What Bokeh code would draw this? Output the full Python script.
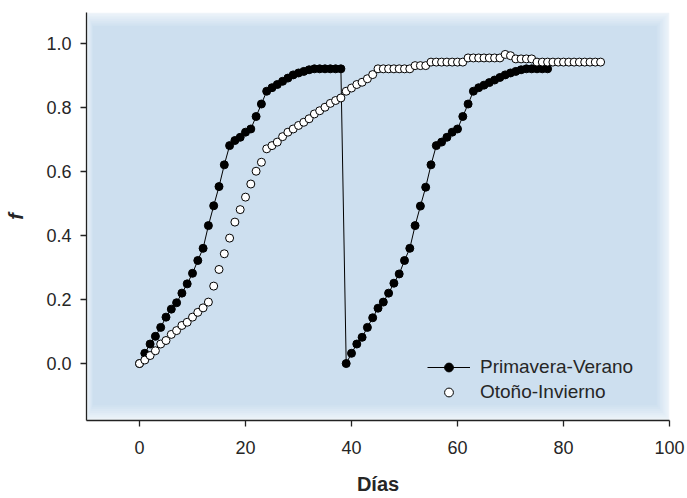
from bokeh.plotting import figure
from bokeh.models import FixedTicker, PrintfTickFormatter, Legend, LegendItem, Range1d
from bokeh.embed import file_html
from bokeh.resources import INLINE

# ---- data ----
pv_days = list(range(0, 78))
pv_f = [0.0, 0.032, 0.061, 0.085, 0.113, 0.145, 0.17, 0.19, 0.22, 0.249,
        0.282, 0.322, 0.36, 0.431, 0.493, 0.553, 0.621, 0.681, 0.697, 0.707,
        0.723, 0.733, 0.772, 0.811, 0.851, 0.862, 0.872, 0.882, 0.892, 0.902,
        0.908, 0.913, 0.918, 0.921, 0.921, 0.921, 0.921, 0.921, 0.921,
        0.0, 0.032, 0.061, 0.082, 0.113, 0.143, 0.173, 0.192, 0.22, 0.251,
        0.28, 0.322, 0.36, 0.431, 0.492, 0.551, 0.621, 0.681, 0.692, 0.707,
        0.723, 0.733, 0.772, 0.811, 0.851, 0.862, 0.870, 0.878, 0.886, 0.894,
        0.902, 0.908, 0.913, 0.918, 0.921, 0.921, 0.921, 0.921, 0.921]

oi_days = list(range(0, 88))
oi_f = [0.0, 0.011, 0.025, 0.04, 0.061, 0.072, 0.091, 0.103, 0.119, 0.129,
        0.145, 0.16, 0.174, 0.192, 0.242, 0.294, 0.343, 0.392, 0.442, 0.481,
        0.52, 0.561, 0.601, 0.629, 0.671, 0.681, 0.692, 0.709, 0.723, 0.733,
        0.744, 0.754, 0.765, 0.78, 0.79, 0.801, 0.813, 0.822, 0.83, 0.851,
        0.861, 0.872, 0.879, 0.89, 0.903, 0.921, 0.921, 0.921, 0.921, 0.921,
        0.921, 0.921, 0.931, 0.931, 0.931, 0.942, 0.942, 0.942, 0.942, 0.942,
        0.942, 0.942, 0.955, 0.955, 0.955, 0.955, 0.955, 0.955, 0.955, 0.966,
        0.962, 0.952, 0.952, 0.952, 0.952, 0.942, 0.942, 0.942, 0.942, 0.942,
        0.942, 0.942, 0.942, 0.942, 0.942, 0.942, 0.942, 0.942]

x_ticks = [0, 20, 40, 60, 80, 100]
y_ticks = [0.0, 0.2, 0.4, 0.6, 0.8, 1.0]
labels = ["Primavera-Verano", "Otoño-Invierno"]

X0, X1 = -10, 100
Y0, Y1 = -0.178, 1.097

W, H = 687, 498
BL, BR, BT, BB = 86, 18, 12, 78

p = figure(width=W, height=H, x_range=Range1d(X0, X1), y_range=Range1d(Y0, Y1),
           output_backend="svg", toolbar_location=None,
           min_border_left=BL, min_border_right=BR, min_border_top=BT, min_border_bottom=BB)
p.outline_line_color = None
p.grid.visible = False
p.background_fill_color = "#ffffff"
p.border_fill_color = "#ffffff"

# soft blue background panel (stepped gradient toward the edges)
fw = W - BL - BR
fh = H - BT - BB
sx = fw / (X1 - X0)
sy = fh / (Y1 - Y0)
blue = (205, 223, 239)
n = 9
for i in range(n):
    t = 0.35 + 0.65 * i / (n - 1)
    c = tuple(int(round(255 + (b - 255) * t)) for b in blue)
    col = "#%02x%02x%02x" % c
    p.quad(left=X0 + i * 0.8 / sx, right=X1 - i * 1.6 / sx,
           top=Y1 - i * 1.7 / sy, bottom=Y0 + i * 1.9 / sy,
           fill_color=col, line_color=None, level="underlay")

r_line = p.line(pv_days, pv_f, line_color="black", line_width=1)
r_pv = p.scatter(pv_days, pv_f, size=8, fill_color="black", line_color="black")
r_oi = p.scatter(oi_days, oi_f, size=8, fill_color="white", line_color="black", line_width=1)

FONT = "Liberation Sans"
TXT = "#262626"
for ax in (p.xaxis[0], p.yaxis[0]):
    ax.axis_line_color = "#222222"
    ax.axis_line_width = 1.3
    ax.major_tick_line_color = "#222222"
    ax.major_tick_line_width = 1.3
    ax.major_tick_out = 6
    ax.major_tick_in = 0
    ax.minor_tick_out = 0
    ax.minor_tick_in = 0
    ax.major_label_text_font = FONT
    ax.major_label_text_font_size = "18px"
    ax.major_label_text_color = TXT
    ax.axis_label_text_font = FONT
    ax.axis_label_text_color = TXT

p.xaxis.ticker = FixedTicker(ticks=x_ticks)
p.yaxis.ticker = FixedTicker(ticks=y_ticks)
p.yaxis.formatter = PrintfTickFormatter(format="%.1f")
p.xaxis.major_label_standoff = 14
p.yaxis.major_label_standoff = 9

p.xaxis.axis_label = "Días"
p.xaxis.axis_label_text_font_size = "20px"
p.xaxis.axis_label_text_font_style = "bold"
p.xaxis.axis_label_standoff = 16

p.yaxis.axis_label = "f"
p.yaxis.axis_label_text_font_size = "20px"
p.yaxis.axis_label_text_font_style = "bold italic"
p.yaxis.axis_label_standoff = 16

legend = Legend(items=[LegendItem(label=labels[0], renderers=[r_line, r_pv]),
                       LegendItem(label=labels[1], renderers=[r_oi])],
                location=(341, 17), orientation="vertical")
legend.padding = 0
legend.margin = 0
legend.border_line_color = None
legend.background_fill_alpha = 0
legend.glyph_width = 43
legend.glyph_height = 22
legend.label_height = 22
legend.spacing = 3
legend.label_standoff = 10
legend.label_text_font = FONT
legend.label_text_font_size = "19px"
legend.label_text_color = TXT
p.add_layout(legend)

open("out.html", "w").write(file_html(p, INLINE))
